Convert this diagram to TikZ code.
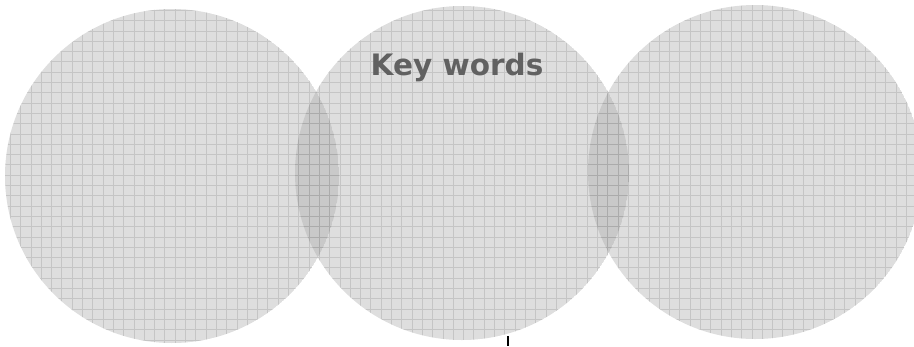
\documentclass[tikz,border=0pt]{standalone}
\usepackage{fontspec}
\setsansfont{DejaVu Sans}
\usepackage{tikz}
\usetikzlibrary{calc,positioning}
\colorlet{discgray}{black!34}
\colorlet{gridgray}{black!45}
\colorlet{wordgray}{black!62}

\begin{document}
\begin{tikzpicture}[x=0.02cm,y=-0.02cm]
\useasboundingbox (0,0) rectangle (914,346);
% three overlapping discs, each with its own grid
\foreach \cx/\cy in {172/176,462/173,755/172}{
  \begin{scope}
    \clip (\cx,\cy) circle (167);
    \fill[discgray,opacity=0.385] (\cx,\cy) circle (167);
    \draw[gridgray,opacity=0.3,line width=0.4pt,step={(10.3,-10.3)}] (\cx-170,\cy-170) grid (\cx+170,\cy+170);
  \end{scope}
}
\node[font=\sffamily\bfseries\fontsize{16.8}{20}\selectfont,text=wordgray,inner sep=0pt,anchor=base] (kw) at (457,75) {Key words};
% small mark under the middle disc
\coordinate (tk) at (508,336);
\draw[black,line width=1pt] (tk) -- ++(0,10);
\end{tikzpicture}
\end{document}
